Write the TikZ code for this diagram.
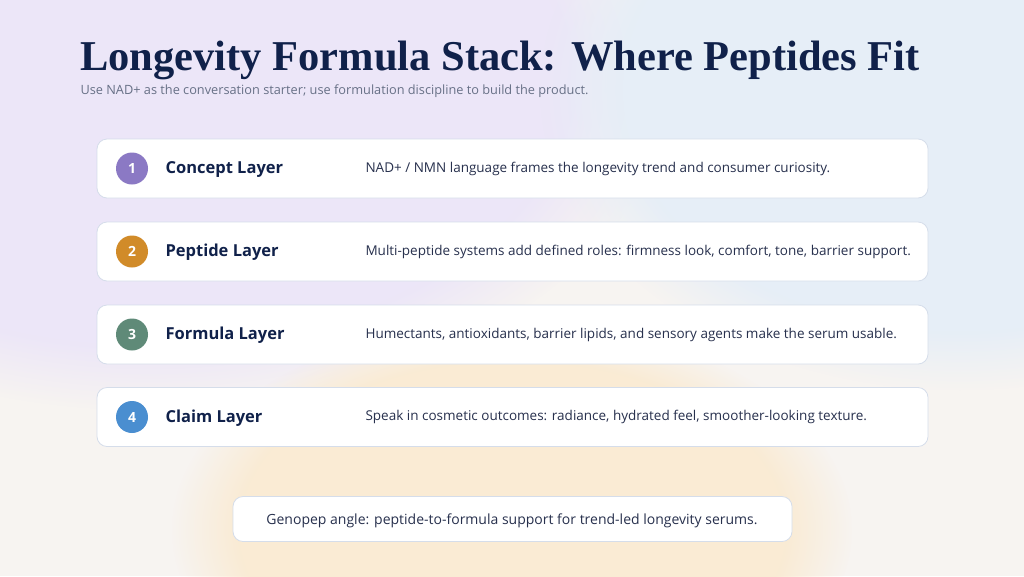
\documentclass[tikz,border=0pt]{standalone}
\usepackage{fontspec}
\setmainfont{Open Sans}
\newfontfamily\titlefont{Liberation Serif}
\usetikzlibrary{fadings}
\definecolor{bgbase}{HTML}{F7F4F1}
\definecolor{lav}{HTML}{ECE6F8}
\definecolor{skyb}{HTML}{E6EEF7}
\definecolor{peach}{HTML}{FAEBD4}
\definecolor{navy}{HTML}{10214A}
\definecolor{subgray}{HTML}{677086}
\definecolor{bodytxt}{HTML}{27304D}
\definecolor{cardborder}{HTML}{D5DDEA}
\definecolor{cpurple}{HTML}{8B79C4}
\definecolor{corange}{HTML}{D18B29}
\definecolor{cgreen}{HTML}{5F8A78}
\definecolor{cblue}{HTML}{4A8ED0}
\tikzset{
  card/.style={draw=cardborder, line width=0.8pt, fill=white, rounded corners=10pt},
  badge/.style={circle, minimum size=32pt, inner sep=0pt, text=white, font=\bfseries\fontsize{14}{16}\selectfont},
  layertitle/.style={anchor=west, text=navy, font=\bfseries\fontsize{16.5}{20}\selectfont},
  desc/.style={anchor=west, text=bodytxt, font=\fontsize{13.5}{16}\selectfont},
}
\begin{document}
\begin{tikzpicture}[x=1pt,y=-1pt]
\useasboundingbox (0,0) rectangle (1024,576);
% background
\fill[bgbase] (0,0) rectangle (1024,576);
\fill[lav, path fading=circle with fuzzy edge 20 percent] (150,80) ellipse (520 and 330);
\fill[skyb, path fading=circle with fuzzy edge 20 percent] (960,90) ellipse (420 and 300);
\fill[peach, path fading=circle with fuzzy edge 20 percent] (512,530) ellipse (340 and 210);
\fill[lav, opacity=0.6, path fading=circle with fuzzy edge 20 percent] (60,60) ellipse (300 and 250);
% title
\node[text=navy, font=\titlefont\bfseries\fontsize{42.5}{46}\selectfont] (title) at (500,60) {Longevity Formula Stack: Where Peptides Fit};
\node[anchor=west, text=subgray, font=\fontsize{12.75}{15}\selectfont] (sub) at (77,91) {Use NAD+ as the conversation starter; use formulation discipline to build the product.};
% cards
\foreach \i/\y/\col/\ttl/\txt in {
  1/168.5/cpurple/Concept Layer/{NAD+ / NMN language frames the longevity trend and consumer curiosity.},
  2/251.5/corange/Peptide Layer/{Multi-peptide systems add defined roles: firmness look, comfort, tone, barrier support.},
  3/334.5/cgreen/Formula Layer/{Humectants, antioxidants, barrier lipids, and sensory agents make the serum usable.},
  4/417/cblue/Claim Layer/{Speak in cosmetic outcomes: radiance, hydrated feel, smoother-looking texture.}}{
  \node[card, minimum width=831pt, minimum height=59pt] (card\i) at (512.5,\y) {};
  \node[badge, fill=\col] (badge\i) at (132,\y) {\i};
  \node[layertitle] (ttl\i) at (162,\y+1) {\ttl};
  \node[desc] (desc\i) at (362,\y) {\txt};
}
% bottom box
\node[card, minimum width=559pt, minimum height=45pt] (note) at (512.5,519) {};
\node[text=bodytxt, font=\fontsize{14}{16}\selectfont] (notetxt) at (512,521) {Genopep angle: peptide-to-formula support for trend-led longevity serums.};
\end{tikzpicture}
\end{document}
